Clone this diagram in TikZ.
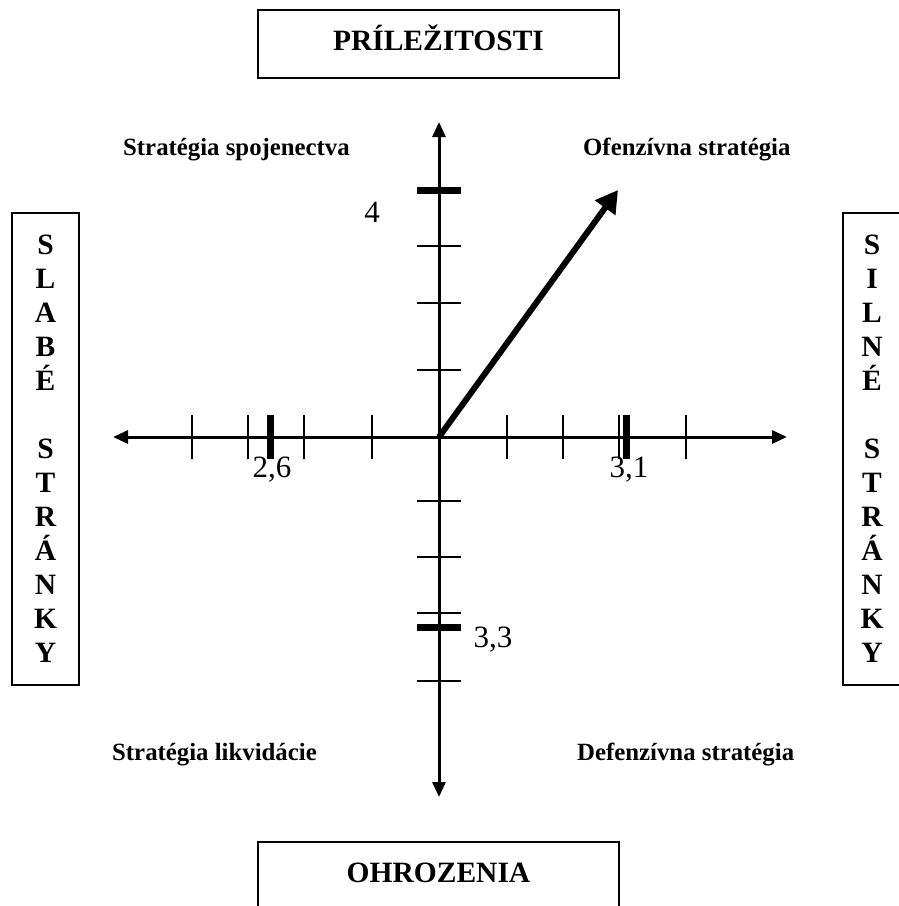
\documentclass[tikz,border=0pt]{standalone}
\usepackage{fontspec}
\setmainfont{Liberation Serif}
\usetikzlibrary{arrows.meta}
\begin{document}
\begin{tikzpicture}[x=1pt,y=-1pt,
  axisline/.style={line width=3pt,{Triangle[length=15pt,width=13pt]}-{Triangle[length=15pt,width=13pt]}},
  vtick/.style={line width=2pt},
  thicktick/.style={line width=7pt},
  boxed/.style={draw,line width=1.5pt,inner sep=0pt},
  title/.style={font=\fontsize{29.5}{34}\selectfont\bfseries},
  quad/.style={font=\fontsize{24.8}{28}\selectfont\bfseries,inner sep=0pt},
  num/.style={font=\fontsize{31}{36}\selectfont,inner sep=0pt},
  vector/.style={line width=6pt,-{Triangle[length=22pt,width=24pt]}}]
\useasboundingbox (0,0) rectangle (899,906);
% boxes
\node[boxed,minimum width=361pt,minimum height=68pt] (oppbox) at (438.5,44) {};
\node[title,anchor=base,inner sep=0pt] (opp) at (438.5,50) {PRÍLEŽITOSTI};
\node[boxed,minimum width=361pt,minimum height=80pt] (thrbox) at (438.5,882) {};
\node[title,anchor=base,inner sep=0pt] (thr) at (438.5,882) {OHROZENIA};
\node[boxed,title,align=center,minimum width=67pt,minimum height=472pt] (weak) at (45.5,449)
  {S\\L\\A\\B\\É\\[34pt]S\\T\\R\\Á\\N\\K\\Y};
\node[boxed,title,align=center,minimum width=58pt,minimum height=472pt] (strong) at (872,449)
  {S\\I\\L\\N\\É\\[34pt]S\\T\\R\\Á\\N\\K\\Y};
% axes
\coordinate (O) at (439,437);
\coordinate (L) at (113,437);
\coordinate (R) at (787,437);
\coordinate (T) at (439,122);
\coordinate (B) at (439,797);
\draw[axisline] (L) -- (R);
\draw[axisline] (T) -- (B);
% ticks horizontal axis
\foreach \x in {192,248,304,372,507,563,619,686}
  \draw[vtick] (\x,415) -- (\x,459);
\draw[thicktick] (270,415) -- (270,459);
\draw[thicktick] (626,415) -- (626,459);
% ticks vertical axis
\foreach \y in {246,303,370,501,557,613,681}
  \draw[vtick] (417,\y) -- (461,\y);
\draw[thicktick] (417,190) -- (461,190);
\draw[thicktick] (417,627) -- (461,627);
% vector
\coordinate (D) at (618,190);
\draw[vector] (O) -- (D);
% labels
\node[quad,anchor=base west] (q2) at (123,155) {Stratégia spojenectva};
\node[quad,anchor=base west] (q1) at (583,155) {Ofenzívna stratégia};
\node[quad,anchor=base west] (q3) at (112,760) {Stratégia likvidácie};
\node[quad,anchor=base west] (q4) at (577,760) {Defenzívna stratégia};
\node[num,anchor=base] (n4) at (372,222) {4};
\node[num,anchor=base] (n26) at (272,477) {2,6};
\node[num,anchor=base] (n31) at (629,477) {3,1};
\node[num,anchor=base] (n33) at (493,647) {3,3};
\end{tikzpicture}
\end{document}
